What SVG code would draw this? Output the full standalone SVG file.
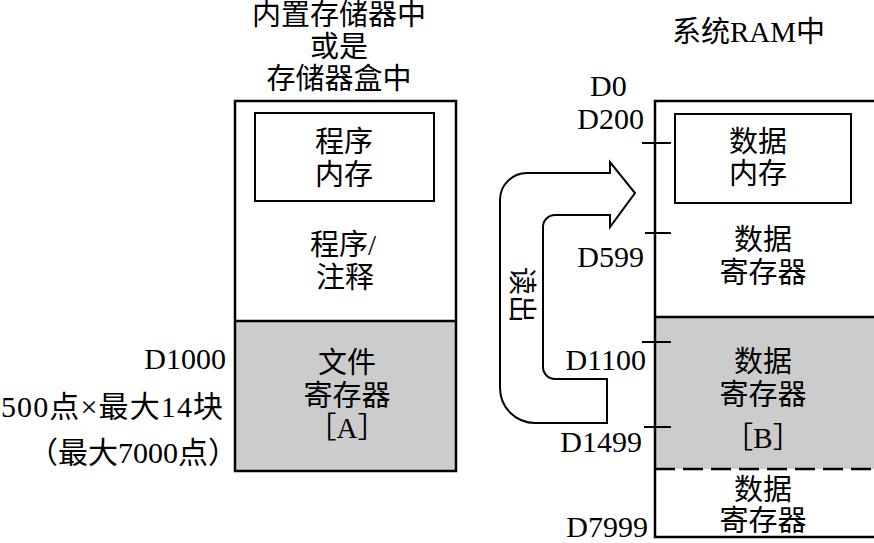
<svg xmlns="http://www.w3.org/2000/svg" width="874" height="543" viewBox="0 0 874 543">
<style>
text{font-family:"Liberation Serif","Noto Sans CJK SC",serif;font-size:29px;fill:#000}
.lat{font-family:"Liberation Serif",serif}
.m{text-anchor:middle}
.e{text-anchor:end}
.box{fill:none;stroke:#000;stroke-width:2.5}
.thin{fill:none;stroke:#000;stroke-width:2}
.gray{fill:#cccccc;stroke:none}
.tick{stroke:#000;stroke-width:2}
</style>
<rect width="874" height="543" fill="#fff"/>

<g id="left-title">
<text class="m" x="339" y="25">内置存储器中</text>
<text class="m" x="339" y="57">或是</text>
<text class="m" x="339" y="89">存储器盒中</text>
</g>

<g id="left-memory">
<rect class="gray" x="235" y="321" width="221" height="150"/>
<rect class="box" x="235" y="101" width="221" height="370"/>
<line class="box" x1="235" y1="321" x2="456" y2="321"/>
</g>

<g id="program-memory">
<rect class="thin" x="255" y="113" width="179" height="88"/>
<text class="m" x="344" y="152">程序</text>
<text class="m" x="344" y="185">内存</text>
</g>

<g id="program-comment">
<text class="m" x="343" y="255">程序/</text>
<text class="m" x="345" y="288">注释</text>
</g>

<g id="file-register">
<text class="m" x="347" y="373">文件</text>
<text class="m" x="347" y="406">寄存器</text>
<text class="m" x="347" y="438">［<tspan class="lat">A</tspan>］</text>
</g>

<g id="left-labels">
<text class="e" x="226" y="369" style="font-size:30px">D1000</text>
<text x="1" y="417" style="font-size:30px" textLength="222" lengthAdjust="spacing"><tspan class="lat">500</tspan>点<tspan class="lat">×</tspan>最大<tspan class="lat">14</tspan>块</text>
<text class="e" x="238" y="463" style="font-size:30px">（最大<tspan class="lat">7000</tspan>点）</text>
</g>

<g id="right-title">
<text x="672" y="42">系统<tspan class="lat">RAM</tspan>中</text>
</g>

<g id="right-memory">
<rect class="gray" x="655" y="317" width="230" height="152"/>
<polyline class="box" points="880,101 655,101 655,537 880,537"/>
<line class="box" x1="655" y1="317" x2="880" y2="317"/>
<line x1="655" y1="469" x2="880" y2="469" stroke="#000" stroke-width="2.5" stroke-dasharray="20,8"/>
<line class="tick" x1="642" y1="143" x2="671" y2="143"/>
<line class="tick" x1="645" y1="233" x2="671" y2="233"/>
<line class="tick" x1="642" y1="342" x2="671" y2="342"/>
<line class="tick" x1="644" y1="427" x2="671" y2="427"/>
</g>

<g id="data-memory">
<rect class="thin" x="675" y="114" width="176" height="89"/>
<text class="m" x="758" y="152">数据</text>
<text class="m" x="758" y="184">内存</text>
</g>

<g id="data-register-1">
<text class="m" x="763" y="250">数据</text>
<text class="m" x="763" y="283">寄存器</text>
</g>

<g id="data-register-b">
<text class="m" x="763" y="372">数据</text>
<text class="m" x="763" y="405">寄存器</text>
<text class="m" x="763" y="448">［<tspan class="lat">B</tspan>］</text>
</g>

<g id="data-register-2">
<text class="m" x="763" y="500">数据</text>
<text class="m" x="763" y="531">寄存器</text>
</g>

<g id="right-labels">
<text x="590" y="96" style="font-size:30px">D0</text>
<text class="e" x="644" y="129" style="font-size:30px">D200</text>
<text class="e" x="644" y="267" style="font-size:30px">D599</text>
<text class="e" x="646" y="370" style="font-size:30px">D1100</text>
<text class="e" x="642" y="452" style="font-size:30px">D1499</text>
<text class="e" x="648" y="537" style="font-size:30px">D7999</text>
</g>

<g id="connectors">
<path class="thin" d="M607 379 L607 423 L535 423 A35 35 0 0 1 500 388 L500 200 A27 27 0 0 1 527 173 L610 173 L610 162 L635 193 L610 227 L610 215 L555 215 A12 12 0 0 0 543 227 L543 367 A12 12 0 0 0 555 379 Z"/>
<text class="m" transform="translate(512 295) rotate(90)" style="font-size:28px">读出</text>
</g>
</svg>
